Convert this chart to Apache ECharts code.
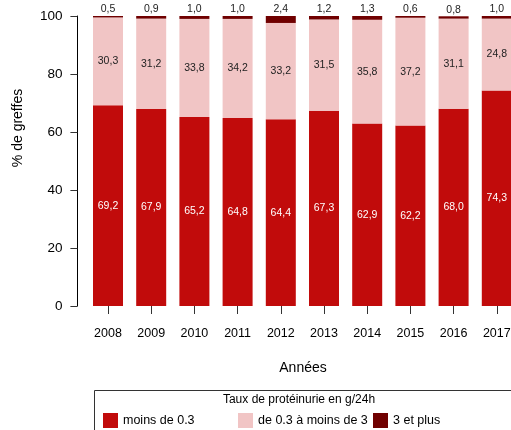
<!DOCTYPE html>
<html><head><meta charset="utf-8">
<script src="https://cdn.jsdelivr.net/npm/echarts@6/dist/echarts.min.js"></script>
<style>html,body{margin:0;padding:0;background:#fff;overflow:hidden}#c{width:530px;height:430px}</style>
</head><body><div id="c"></div>
<script>
var years = ['2008','2009','2010','2011','2012','2013','2014','2015','2016','2017'];
var low = [69.2,67.9,65.2,64.8,64.4,67.3,62.9,62.2,68.0,74.3];
var mid = [30.3,31.2,33.8,34.2,33.2,31.5,35.8,37.2,31.1,24.8];
var high = [0.5,0.9,1.0,1.0,2.4,1.2,1.3,0.6,0.8,1.0];
var yTicks = [0,20,40,60,80,100];
var names = ['moins de 0.3','de 0.3 à moins de 3','3 et plus'];
var colors = ['#C10B0B','#F1C5C5','#700000'];
var F = 'Liberation Sans, Arial, sans-serif';
function fmt(p){ return p.value.toFixed(1).replace('.', ','); }
var chart = echarts.init(document.getElementById('c'));
chart.setOption({
  animation:false,
  textStyle:{fontFamily:F},
  grid:{left:86.4, top:16, width:432, height:290},
  xAxis:{type:'category', data:years,
    axisLine:{show:false},
    axisTick:{show:true, alignWithLabel:true, length:8, lineStyle:{color:'#333'}},
    axisLabel:{color:'#000', fontSize:12.5, margin:21, fontFamily:F}},
  yAxis:{type:'value', min:0, max:100, interval:20, offset:9,
    splitLine:{show:false},
    axisLine:{show:true, lineStyle:{color:'#000'}},
    axisTick:{show:true, length:7, lineStyle:{color:'#333'}},
    axisLabel:{color:'#000', fontSize:13.5, margin:15, fontFamily:F,
      formatter:function(v){ return yTicks.indexOf(v)>=0 ? String(v) : ''; }}},
  legend:[
    {data:[names[0]], left:98, top:408, itemWidth:15, itemHeight:15, icon:'rect', textStyle:{fontSize:12.5, color:'#000', fontFamily:F}},
    {data:[names[1]], left:233, top:408, itemWidth:15, itemHeight:15, icon:'rect', textStyle:{fontSize:12.5, color:'#000', fontFamily:F}},
    {data:[names[2]], left:368, top:408, itemWidth:15, itemHeight:15, icon:'rect', textStyle:{fontSize:12.5, color:'#000', fontFamily:F}}
  ],
  graphic:[
    {type:'rect', shape:{x:94.5, y:390.5, width:430, height:60}, style:{fill:'none', stroke:'#333', lineWidth:1}},
    {type:'text', x:299, y:400, style:{text:'Taux de protéinurie en g/24h', fill:'#000', font:'12px '+F, textAlign:'center', textVerticalAlign:'middle'}},
    {type:'text', x:303, y:368, style:{text:'Années', fill:'#000', font:'14px '+F, textAlign:'center', textVerticalAlign:'middle'}},
    {type:'text', x:18, y:128, rotation:Math.PI/2, style:{text:'% de greffes', fill:'#000', font:'14px '+F, textAlign:'center', textVerticalAlign:'middle'}}
  ],
  series:[
    {name:names[0], type:'bar', stack:'s', data:low, barWidth:30, itemStyle:{color:colors[0]},
      label:{show:true, position:'inside', color:'#fff', fontSize:10.5, formatter:fmt}},
    {name:names[1], type:'bar', stack:'s', data:mid, barWidth:30, itemStyle:{color:colors[1]},
      label:{show:true, position:'inside', color:'#222', fontSize:10.5, formatter:fmt}},
    {name:names[2], type:'bar', stack:'s', data:high, barWidth:30, itemStyle:{color:colors[2]},
      label:{show:true, position:'top', distance:1, color:'#222', fontSize:10.5, formatter:fmt}}
  ]
});
</script></body></html>
